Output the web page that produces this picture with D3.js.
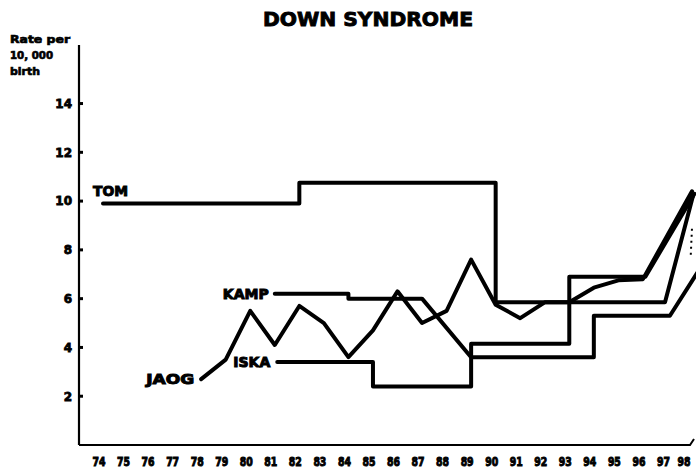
<!DOCTYPE html>
<html>
<head>
<meta charset="utf-8">
<script src="https://cdn.jsdelivr.net/npm/d3@7"></script>
<style>
  html, body { margin: 0; padding: 0; background: #fff; }
  svg { display: block; }
  text { font-family: "DejaVu Sans", "Liberation Sans", sans-serif; font-weight: bold; fill: #000; }
</style>
</head>
<body>
<svg id="chart" width="696" height="475"></svg>
<script>
// ---- data ----
const title = "DOWN SYNDROME";
const yAxisLabel = ["Rate per", "10, 000", "birth"];
const xTickYears = d3.range(74, 99);
const yTickValues = [2, 4, 6, 8, 10, 12, 14];

const tomYears  = [74, 82, 82, 90, 90, 96.9, 98.05];
const tomRates  = [9.9, 9.9, 10.75, 10.75, 5.85, 5.85, 10.25];

const kampYears = [81, 84, 84, 87, 89, 94, 94, 97.1, 98.3];
const kampRates = [6.2, 6.2, 6.0, 6.0, 3.6, 3.6, 5.3, 5.3, 7.2];

const iskaYears = [81.1, 85, 85, 89, 89, 93, 93, 96.1, 98.1];
const iskaRates = [3.4, 3.4, 2.4, 2.4, 4.15, 4.15, 6.9, 6.9, 10.3];

const jaogYears = d3.range(78, 99);
const jaogRates = [2.7, 3.5, 5.5, 4.1, 5.7, 5.0, 3.6, 4.7, 6.3, 5.0, 5.5, 7.6, 5.75, 5.2, 5.85, 5.85, 6.45, 6.75, 6.8, 8.6, 10.4];

const dottedYears = [97.95, 98.0];
const dottedRates = [7.8, 8.9];

// ---- scales ----
const svg = d3.select("#chart");
const x = d3.scaleLinear().domain([74, 98]).range([103, 692]);
const y = d3.scaleLinear().domain([0, 16.4]).range([445, 45]);
const axisX = 79;

// title
svg.append("text").attr("x", 263).attr("y", 26)
  .attr("font-size", 19).attr("textLength", 210).attr("lengthAdjust", "spacingAndGlyphs")
  .style("stroke", "#000").style("stroke-width", 0.9)
  .text(title);

// y label
const ylW = [60, 43, 30];
yAxisLabel.forEach((t, i) => {
  svg.append("text").attr("x", 10).attr("y", 43 + i * 16)
    .attr("font-size", 11).attr("textLength", ylW[i]).attr("lengthAdjust", "spacingAndGlyphs")
    .style("stroke", "#000").style("stroke-width", 0.7)
    .text(t);
});

// y axis line
svg.append("line").attr("x1", axisX).attr("x2", axisX)
  .attr("y1", y(0)).attr("y2", y(16.4))
  .attr("stroke", "#000").attr("stroke-width", 2.2);

// y ticks
const yt = svg.append("g");
yTickValues.forEach(v => {
  yt.append("line").attr("x1", axisX - 1).attr("x2", axisX + 4)
    .attr("y1", y(v)).attr("y2", y(v)).attr("stroke", "#000").attr("stroke-width", 3);
  yt.append("text").attr("x", 72).attr("y", y(v)).attr("dy", "0.36em")
    .attr("text-anchor", "end").attr("font-size", 12)
    .style("stroke", "#000").style("stroke-width", 0.8)
    .text(v);
});

// x axis line
svg.append("path")
  .attr("d", `M${axisX},${y(0)} L${x(98) - 2},${y(0)} L${x(98) + 2},${y(0) - 6}`)
  .attr("fill", "none").attr("stroke", "#000").attr("stroke-width", 2);

// x tick labels
const xt = svg.append("g");
xTickYears.forEach(yr => {
  xt.append("text").attr("x", Math.min(x(yr) - 4, 684)).attr("y", 466)
    .attr("text-anchor", "middle").attr("font-size", 12)
    .attr("textLength", 13).attr("lengthAdjust", "spacingAndGlyphs")
    .style("stroke", "#000").style("stroke-width", 1)
    .text(yr);
});

// series
const line = d3.line().x(d => x(d[0])).y(d => y(d[1]));
const zip = (a, b) => a.map((v, i) => [v, b[i]]);
const series = [
  { name: "TOM", pts: zip(tomYears, tomRates) },
  { name: "KAMP", pts: zip(kampYears, kampRates) },
  { name: "ISKA", pts: zip(iskaYears, iskaRates) },
  { name: "JAOG", pts: zip(jaogYears, jaogRates) }
];
series.forEach(s => {
  svg.append("path").datum(s.pts).attr("d", line)
    .attr("fill", "none").attr("stroke", "#000").attr("stroke-width", 4)
    .attr("stroke-linejoin", "round").attr("stroke-linecap", "round");
});
svg.append("path").datum(zip(dottedYears, dottedRates)).attr("d", line)
  .attr("fill", "none").attr("stroke", "#000").attr("stroke-width", 2)
  .attr("stroke-dasharray", "2,4");

// series labels
const labels = [
  { t: "TOM",  x: x(tomYears[0]) - 10, y: y(10.4),  w: 35, anchor: "start" },
  { t: "KAMP", x: x(kampYears[0]) - 6, y: y(kampRates[0]), w: 46, anchor: "end" },
  { t: "ISKA", x: x(iskaYears[0]) - 7, y: y(iskaRates[0]), w: 37, anchor: "end" },
  { t: "JAOG", x: x(jaogYears[0]) - 7, y: y(jaogRates[0]), w: 48, anchor: "end" }
];
labels.forEach(l => {
  svg.append("text").attr("x", l.x).attr("y", l.y).attr("dy", "0.36em")
    .attr("text-anchor", l.anchor).attr("font-size", 14)
    .attr("textLength", l.w).attr("lengthAdjust", "spacingAndGlyphs")
    .style("stroke", "#000").style("stroke-width", 1)
    .text(l.t);
});
</script>
</body>
</html>
